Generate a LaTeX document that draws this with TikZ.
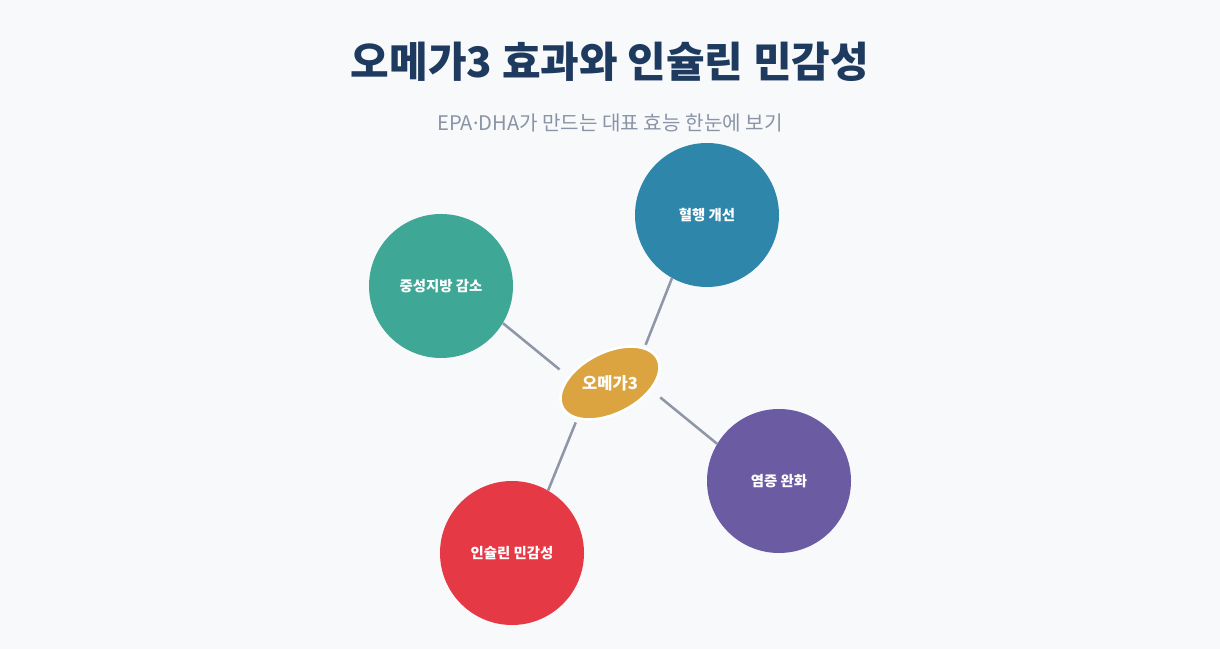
\documentclass[tikz,border=0pt]{standalone}
\usepackage{fontspec}
\setmainfont{Noto Sans CJK KR}
\newfontfamily\latinsans{Noto Sans}
\usepackage{xcolor}
\usepackage{tikz}
\usetikzlibrary{positioning}
\definecolor{pagebg}{HTML}{F7F9FB}
\definecolor{titlenavy}{HTML}{1F3A5F}
\definecolor{subgray}{HTML}{8A94A6}
\definecolor{linkgray}{HTML}{8E96A8}
\definecolor{omegagold}{HTML}{DBA441}
\definecolor{lipidteal}{HTML}{3FA796}
\definecolor{bloodblue}{HTML}{2E86AB}
\definecolor{inflampurple}{HTML}{6A5BA3}
\definecolor{insulinred}{HTML}{E63946}

\begin{document}
\begin{tikzpicture}[x=0.75pt, y=0.75pt,
  effect/.style={circle, minimum size=108pt, inner sep=0pt, text=white, font=\bfseries\fontsize{10.8}{13}\selectfont},
  hub/.style={circle, minimum size=78pt, inner sep=0pt, text=white, font=\bfseries\fontsize{12.4}{15}\selectfont},
  link/.style={linkgray, line width=1.9pt}]
  \fill[pagebg] (0,0) rectangle (1220,649);
  \useasboundingbox (0,0) rectangle (1220,649);
  % titles
  \node[text=titlenavy, font=\bfseries\fontsize{31.5}{36}\selectfont] (title) at (610,587) {오메가3 효과와 인슐린 민감성};
  \node[text=subgray, font=\fontsize{15.1}{18}\selectfont] (sub) at (610,526) {EPA{\latinsans·}DHA가 만드는 대표 효능 한눈에 보기};
  % center
  \coordinate (c) at (610,266);
  \filldraw[fill=omegagold, draw=white, line width=2pt, rotate around={27:(c)}] (c) ellipse [x radius=40pt, y radius=23pt];
  \node[hub] (hub) at (c) {오메가3};
  % effects
  \node[effect, fill=lipidteal] (lipid) at (441,363) {중성지방 감소};
  \node[effect, fill=bloodblue] (blood) at (707,434) {혈행 개선};
  \node[effect, fill=inflampurple] (inflam) at (779,168) {염증 완화};
  \node[effect, fill=insulinred] (insulin) at (512,96) {인슐린 민감성};
  \draw[link] (lipid.-31) -- (hub.165);
  \draw[link] (blood.241) -- (hub.47);
  \draw[link] (inflam.149) -- (hub.-16);
  \draw[link] (insulin.60) -- (hub.229);
\end{tikzpicture}
\end{document}
